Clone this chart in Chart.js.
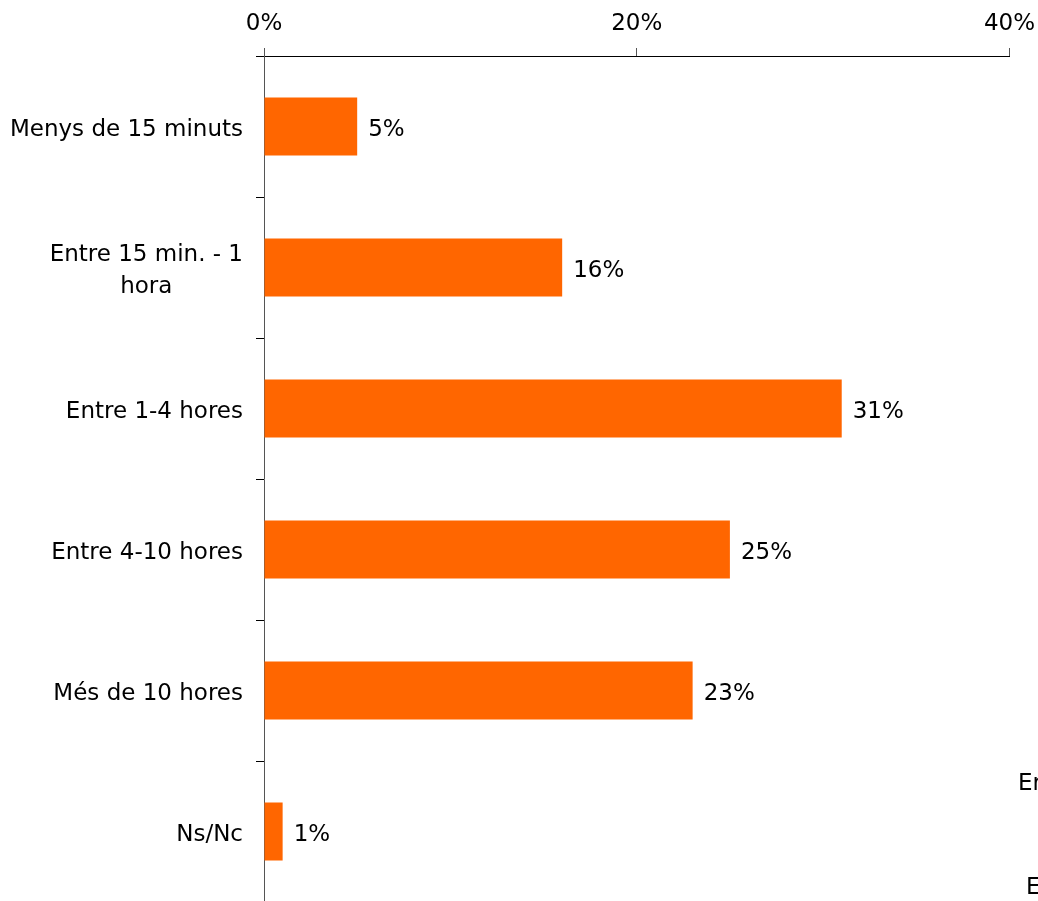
<!DOCTYPE html>
<html>
<head>
<meta charset="utf-8">
<script src="https://cdn.jsdelivr.net/npm/chart.js@4.4.0/dist/chart.umd.min.js"></script>
<style>
  html, body { margin: 0; padding: 0; background: #fff; overflow: hidden; }
  #wrap { position: relative; width: 1045px; height: 902px; }
</style>
</head>
<body>
<div id="wrap"><canvas id="chart"></canvas></div>
<script>
const categories = [
    ['Menys de 15 minuts'],
    ['Entre 15 min. - 1', 'hora'],
    ['Entre 1-4 hores'],
    ['Entre 4-10 hores'],
    ['Més de 10 hores'],
    ['Ns/Nc']
];
const values = [5, 16, 31, 25, 23, 1];
const xTicks = [0, 20, 40];
const strayTexts = ['Er', 'E'];

const FONT = '"DejaVu Sans", sans-serif';
const SIZE = 23;
const TEXT_DY = 4; // glyphs sit a bit lower than the em-box middle

// Category labels, right aligned as a block, lines centred inside it
const yLabels = {
    id: 'yLabels',
    afterDraw(chart) {
        const ctx = chart.ctx;
        const y = chart.scales.y;
        ctx.save();
        ctx.font = SIZE + 'px ' + FONT;
        ctx.fillStyle = '#000';
        ctx.textAlign = 'center';
        ctx.textBaseline = 'middle';
        categories.forEach((lines, i) => {
            const w = Math.max(...lines.map(l => ctx.measureText(l).width));
            const cx = y.left - 13 - w / 2;
            const cy = y.getPixelForTick(i) + TEXT_DY;
            const lh = 32;
            lines.forEach((l, j) => {
                ctx.fillText(l, cx, cy + (j - (lines.length - 1) / 2) * lh);
            });
        });
        ctx.restore();
    }
};

// Value labels at the end of each bar
const valueLabels = {
    id: 'valueLabels',
    afterDatasetsDraw(chart) {
        const ctx = chart.ctx;
        const meta = chart.getDatasetMeta(0);
        ctx.save();
        ctx.font = SIZE + 'px ' + FONT;
        ctx.fillStyle = '#000';
        ctx.textAlign = 'left';
        ctx.textBaseline = 'middle';
        meta.data.forEach((bar, i) => {
            ctx.fillText(values[i] + '%', bar.x + 11, bar.y + TEXT_DY);
        });
        ctx.restore();
    }
};

// Cut-off texts at the right edge of the original picture
const strays = {
    id: 'strays',
    afterDraw(chart) {
        const ctx = chart.ctx;
        ctx.save();
        ctx.font = SIZE + 'px ' + FONT;
        ctx.fillStyle = '#000';
        ctx.textBaseline = 'middle';
        ctx.fillText(strayTexts[0], 1018, 784);
        ctx.fillText(strayTexts[1], 1026, 888);
        ctx.restore();
    }
};

new Chart(document.getElementById('chart'), {
    type: 'bar',
    data: {
        labels: categories,
        datasets: [{
            data: values,
            backgroundColor: '#FF6600',
            barPercentage: 0.41,
            categoryPercentage: 1
        }]
    },
    options: {
        indexAxis: 'y',
        responsive: true,
        maintainAspectRatio: false,
        animation: false,
        layout: { padding: { top: 0, left: 256, right: 0, bottom: 0 } },
        plugins: { legend: { display: false }, tooltip: { enabled: false } },
        scales: {
            x: {
                position: 'top',
                min: 0,
                max: 40,
                afterBuildTicks: s => { s.ticks = xTicks.map(v => ({ value: v })); },
                afterFit: s => { s.height = 56; },
                ticks: {
                    color: '#000',
                    font: { family: FONT, size: SIZE },
                    padding: 10,
                    callback: v => v + '%'
                },
                grid: { drawOnChartArea: false, tickLength: 8, color: '#555' },
                border: { color: '#000' }
            },
            y: {
                ticks: { display: false },
                grid: { drawOnChartArea: false, tickLength: 8, color: '#000', offset: true },
                border: { color: '#555' }
            }
        }
    },
    plugins: [yLabels, valueLabels, strays]
});
</script>
</body>
</html>
